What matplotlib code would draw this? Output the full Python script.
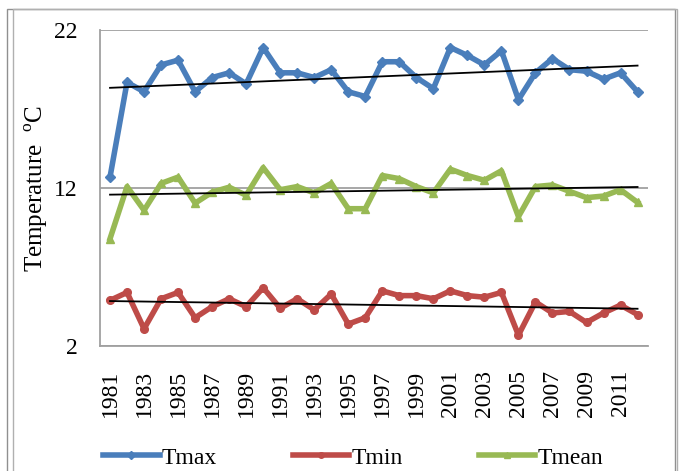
import numpy as np
import matplotlib.pyplot as plt
from matplotlib.patches import Rectangle

plt.rcParams['font.family'] = ['Liberation Serif', 'DejaVu Serif']

years = np.arange(1981, 2013)
tmax = [12.7, 18.7, 18.1, 19.8, 20.1, 18.1, 19.0, 19.3, 18.6, 20.9,
        19.3, 19.3, 19.0, 19.5, 18.1, 17.8, 20.0, 20.0, 19.0, 18.3,
        20.9, 20.4, 19.8, 20.7, 17.6, 19.3, 20.2, 19.5, 19.4, 18.9,
        19.3, 18.1]
tmin = [4.9, 5.4, 3.1, 5.0, 5.4, 3.8, 4.5, 5.0, 4.5, 5.7,
        4.4, 5.0, 4.3, 5.3, 3.4, 3.8, 5.5, 5.2, 5.2, 5.0,
        5.5, 5.2, 5.1, 5.4, 2.7, 4.8, 4.1, 4.2, 3.5, 4.1,
        4.6, 4.0]
tmean = [8.8, 12.1, 10.6, 12.3, 12.7, 11.05, 11.75, 12.06, 11.55, 13.3,
         11.9, 12.1, 11.7, 12.3, 10.7, 10.7, 12.8, 12.6, 12.1, 11.7,
         13.2, 12.8, 12.5, 13.1, 10.2, 12.1, 12.2, 11.8, 11.4, 11.5,
         11.9, 11.1]

fig = plt.figure(figsize=(6.79, 4.71), dpi=100)
ax = fig.add_axes([0.147, 0.265, 0.807, 0.671])

series = [
    ('Tmax', tmax, '#4a7ebb', 'D'),
    ('Tmin', tmin, '#be4b48', 'o'),
    ('Tmean', tmean, '#98b954', '^'),
]
for name, vals, col, mk in series:
    ax.plot(years, vals, color=col, lw=4, marker=mk, ms=5.5, label=name)
for name, vals, col, mk in series:
    p = np.polyfit(years, vals, 1)
    ax.plot(years, np.polyval(p, years), color='black', lw=1.3)

ax.set_ylim(2, 22)
ax.set_yticks([2, 12, 22])
ax.set_xlim(1980.4, 2012.6)
ax.set_xticks(years[::2])
ax.set_xticklabels([str(y) for y in years[::2]], rotation=90)
ax.tick_params(axis='both', labelsize=17, length=0)
ax.tick_params(axis='y', pad=16)
ax.tick_params(axis='x', pad=17)
ax.yaxis.grid(True, color='#a0a0a0', lw=1.3)
ax.set_axisbelow(True)
for s in ax.spines.values():
    s.set_color('#a0a0a0')
    s.set_linewidth(1.3)
ax.spines['top'].set_visible(False)
ax.spines['right'].set_visible(False)
ax.set_ylabel('Temperature  $^{\\mathregular{o}}$C', fontsize=18, labelpad=3)

leg = fig.legend(loc='lower center', ncol=3, frameon=False, fontsize=17,
                 bbox_to_anchor=(0.52, -0.04), columnspacing=3.2,
                 handlelength=2.4, handletextpad=0.1)
for h in leg.legend_handles:
    h.set_markersize(4)

# outer double frame
fig.patches.append(Rectangle((0.011, -0.05), 0.983, 1.031,
                             transform=fig.transFigure, fill=False,
                             ec='#909090', lw=1))
fig.patches.append(Rectangle((0.019, -0.05), 0.978, 1.031,
                             transform=fig.transFigure, fill=False,
                             ec='#b0b0b0', lw=1))

fig.savefig('out.png', dpi=100)
